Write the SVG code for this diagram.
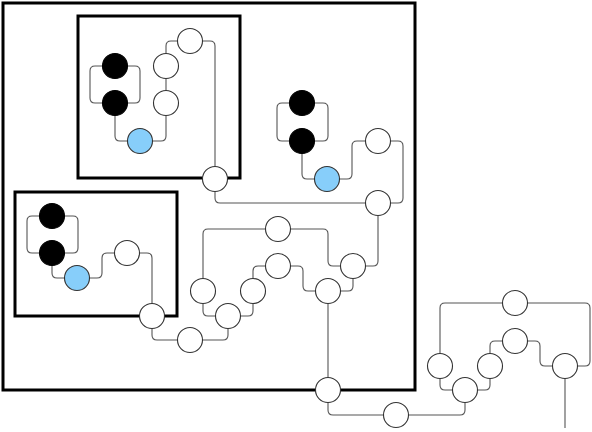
<svg xmlns="http://www.w3.org/2000/svg" width="592" height="432" viewBox="0 0 592 432">
<style>
.frame{fill:none;stroke:#000;stroke-width:3}
.c{fill:none;stroke:#555;stroke-width:1.1}
.n{fill:#fff;stroke:#333;stroke-width:1.1}
.b{fill:#000;stroke:#000;stroke-width:1.1}
.l{fill:#87cefa;stroke:#333;stroke-width:1.1}
</style>
<rect width="592" height="432" fill="#fff"/>
<g id="frames">
<rect class="frame" x="3" y="3" width="412" height="387"/>
<rect class="frame" x="78" y="16" width="162" height="162"/>
<rect class="frame" x="15" y="192" width="162" height="124"/>
</g>
<g id="connectors">
<path class="c" d="M102.5,66 H95 Q90,66 90,71 V98 Q90,103 95,103 H102.5"/>
<path class="c" d="M127.5,66 H135 Q140,66 140,71 V98 Q140,103 135,103 H127.5"/>
<path class="c" d="M115,115.5 V136 Q115,141 120,141 H127.5"/>
<path class="c" d="M152.5,141 H161 Q166,141 166,136 V115.5"/>
<path class="c" d="M166,90.5 V78.5"/>
<path class="c" d="M166,53.5 V46 Q166,41 171,41 H177.5"/>
<path class="c" d="M202.5,41 H210 Q215,41 215,46 V166.5"/>
<path class="c" d="M215,191.5 V198 Q215,203 220,203 H365.5"/>
<path class="c" d="M289.5,103 H282 Q277,103 277,108 V136 Q277,141 282,141 H289.5"/>
<path class="c" d="M314.5,103 H323 Q328,103 328,108 V136 Q328,141 323,141 H314.5"/>
<path class="c" d="M302,153.5 V174 Q302,179 307,179 H314.5"/>
<path class="c" d="M339.5,179 H347 Q352,179 352,174 V146 Q352,141 357,141 H365.5"/>
<path class="c" d="M390.5,141 H398 Q403,141 403,146 V198 Q403,203 398,203 H390.5"/>
<path class="c" d="M39.5,216 H32 Q27,216 27,221 V248 Q27,253 32,253 H39.5"/>
<path class="c" d="M64.5,216 H73 Q78,216 78,221 V248 Q78,253 73,253 H64.5"/>
<path class="c" d="M52,265.5 V273 Q52,278 57,278 H64.5"/>
<path class="c" d="M89.5,278 H97 Q102,278 102,273 V258 Q102,253 107,253 H114.5"/>
<path class="c" d="M139.5,253 H147 Q152,253 152,258 V303.5"/>
<path class="c" d="M152,328.5 V335 Q152,340 157,340 H177.5"/>
<path class="c" d="M378,215.5 V261 Q378,266 373,266 H365.5"/>
<path class="c" d="M265.5,229 H208 Q203,229 203,234 V278.5"/>
<path class="c" d="M290.5,229 H323 Q328,229 328,234 V261 Q328,266 333,266 H340.5"/>
<path class="c" d="M203,303.5 V311 Q203,316 208,316 H215.5"/>
<path class="c" d="M240.5,316 H248 Q253,316 253,311 V303.5"/>
<path class="c" d="M253,278.5 V271 Q253,266 258,266 H265.5"/>
<path class="c" d="M290.5,266 H298 Q303,266 303,271 V286 Q303,291 308,291 H315.5"/>
<path class="c" d="M340.5,291 H348 Q353,291 353,286 V278.5"/>
<path class="c" d="M328,303.5 V377.5"/>
<path class="c" d="M228,328.5 V335 Q228,340 223,340 H202.5"/>
<path class="c" d="M328,402.5 V410 Q328,415 333,415 H383.5"/>
<path class="c" d="M408.5,415 H460 Q465,415 465,410 V402.5"/>
<path class="c" d="M452.5,390 H445 Q440,390 440,385 V378.5"/>
<path class="c" d="M477.5,390 H485 Q490,390 490,385 V378.5"/>
<path class="c" d="M490,353.5 V346 Q490,341 495,341 H502.5"/>
<path class="c" d="M527.5,341 H535 Q540,341 540,346 V361 Q540,366 545,366 H552.5"/>
<path class="c" d="M440,353.5 V308 Q440,303 445,303 H502.5"/>
<path class="c" d="M527.5,303 H585 Q590,303 590,308 V361 Q590,366 585,366 H577.5"/>
<path class="c" d="M565,378.5 V428"/>
</g>
<g id="n1"><circle class="b" cx="115" cy="66" r="12.5"/></g>
<g id="n2"><circle class="b" cx="115" cy="103" r="12.5"/></g>
<g id="n3"><circle class="l" cx="140" cy="141" r="12.5"/></g>
<g id="n4"><circle class="n" cx="166" cy="103" r="12.5"/></g>
<g id="n5"><circle class="n" cx="166" cy="66" r="12.5"/></g>
<g id="n6"><circle class="n" cx="190" cy="41" r="12.5"/></g>
<g id="n7"><circle class="n" cx="215" cy="179" r="12.5"/></g>
<g id="n8"><circle class="b" cx="302" cy="103" r="12.5"/></g>
<g id="n9"><circle class="b" cx="302" cy="141" r="12.5"/></g>
<g id="n10"><circle class="l" cx="327" cy="179" r="12.5"/></g>
<g id="n11"><circle class="n" cx="378" cy="141" r="12.5"/></g>
<g id="n12"><circle class="n" cx="378" cy="203" r="12.5"/></g>
<g id="n13"><circle class="b" cx="52" cy="216" r="12.5"/></g>
<g id="n14"><circle class="b" cx="52" cy="253" r="12.5"/></g>
<g id="n15"><circle class="l" cx="77" cy="278" r="12.5"/></g>
<g id="n16"><circle class="n" cx="127" cy="253" r="12.5"/></g>
<g id="n17"><circle class="n" cx="152" cy="316" r="12.5"/></g>
<g id="n18"><circle class="n" cx="278" cy="229" r="12.5"/></g>
<g id="n19"><circle class="n" cx="353" cy="266" r="12.5"/></g>
<g id="n20"><circle class="n" cx="278" cy="266" r="12.5"/></g>
<g id="n21"><circle class="n" cx="203" cy="291" r="12.5"/></g>
<g id="n22"><circle class="n" cx="253" cy="291" r="12.5"/></g>
<g id="n23"><circle class="n" cx="228" cy="316" r="12.5"/></g>
<g id="n24"><circle class="n" cx="190" cy="340" r="12.5"/></g>
<g id="n25"><circle class="n" cx="328" cy="291" r="12.5"/></g>
<g id="n26"><circle class="n" cx="328" cy="390" r="12.5"/></g>
<g id="n27"><circle class="n" cx="396" cy="415" r="12.5"/></g>
<g id="n28"><circle class="n" cx="515" cy="303" r="12.5"/></g>
<g id="n29"><circle class="n" cx="515" cy="341" r="12.5"/></g>
<g id="n30"><circle class="n" cx="440" cy="366" r="12.5"/></g>
<g id="n31"><circle class="n" cx="490" cy="366" r="12.5"/></g>
<g id="n32"><circle class="n" cx="465" cy="390" r="12.5"/></g>
<g id="n33"><circle class="n" cx="565" cy="366" r="12.5"/></g>
</svg>
